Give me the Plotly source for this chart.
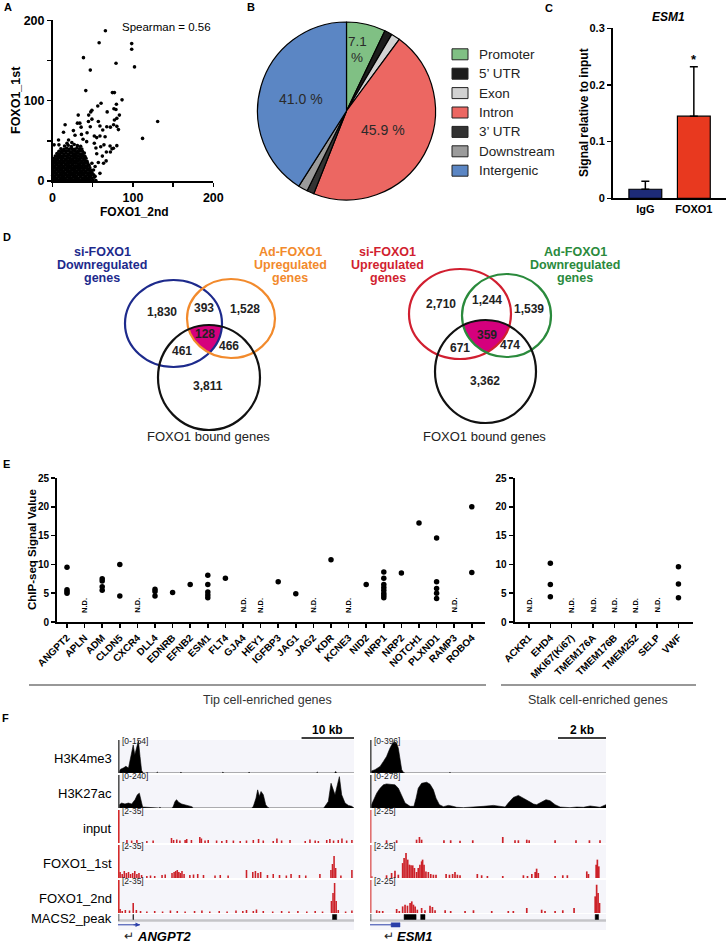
import math
import plotly.graph_objects as go

W, H = 726, 944
FONT = "Liberation Sans, Arial, Helvetica, sans-serif"

# ======================= DATA =======================
# ---- Panel A: FOXO1 ChIP-seq replicate peak signals ----
a_outliers = [
    (65.8, 187), (58, 172), (98.5, 171), (98.5, 164), (102, 142), (79, 146.5),
    (38.5, 153.5), (47, 138), (41.4, 112.5), (77, 110), (74.5, 110), (86.5, 101),
    (79.5, 95.5), (76.4, 90), (78.9, 89), (68, 86), (56.3, 93.4), (60.4, 96.7),
    (47.6, 86), (49, 88), (45, 82), (83.2, 82), (80, 78), (77, 76), (130.8, 74),
    (112, 53), (72, 67), (76, 70), (62.5, 63.5), (80, 68), (82, 64), (57, 74),
    (59, 68.5), (67.5, 67.6), (15.7, 70), (32, 82), (34, 72), (31, 72), (35.6, 67),
    (44.7, 74), (47, 67.6), (49, 77), (13.7, 60.6), (7.5, 51), (2, 45), (8, 45),
    (28, 57), (26, 62.7), (20, 51), (52, 56), (55, 54), (59, 56), (65.4, 55),
    (64, 45), (71.6, 43.6), (60, 42.7), (52, 47), (54, 41), (42.5, 49), (67, 36),
    (74, 40), (72, 36), (62, 31), (66.7, 25), (63.5, 22), (55, 34), (57, 23),
    (49, 22), (53, 18), (51, 13.7), (47, 9.5), (53, 6), (59, 9.5), (75.8, 40.7),
    (80, 44), (38, 52), (24, 48), (36, 58), (18, 47), (43, 60),
]
a_core = [
    (0.5, 1.2), (2.8, 0.6), (5.5, 1.8), (8.2, 0.9), (11, 1.4), (13.6, 0.5), (16.4, 1.9),
    (19, 1.1), (21.8, 0.7), (24.5, 1.6), (27.3, 1.0), (30, 0.8), (32.8, 1.5), (35.5, 0.6),
    (38.4, 1.3), (41.2, 0.9), (44, 1.7), (47, 0.8), (50.5, 1.2), (54, 0.6),
    (1.4, 4.2), (4.2, 3.6), (6.9, 4.8), (9.6, 3.9), (12.3, 4.5), (15, 3.4), (17.7, 4.9),
    (20.4, 4.1), (23.1, 3.7), (25.9, 4.6), (28.6, 4.0), (31.4, 3.5), (34.2, 4.7),
    (36.9, 3.8), (39.7, 4.4), (42.5, 3.6), (45.4, 4.3), (48.6, 3.9), (52, 4.6),
    (0.3, 7.1), (2.9, 6.6), (5.6, 7.8), (8.3, 6.9), (11.1, 7.5), (13.8, 6.4), (16.6, 7.9),
    (19.3, 7.1), (22, 6.7), (24.8, 7.6), (27.5, 7.0), (30.3, 6.5), (33, 7.7), (35.8, 6.8),
    (38.6, 7.4), (41.4, 6.6), (44.3, 7.3), (47.5, 6.9), (51.2, 7.6),
    (1.2, 10.2), (4, 9.6), (6.8, 10.8), (9.5, 9.9), (12.2, 10.5), (15, 9.4), (17.8, 10.9),
    (20.5, 10.1), (23.3, 9.7), (26.1, 10.6), (28.8, 10.0), (31.6, 9.5), (34.4, 10.7),
    (37.2, 9.8), (40, 10.4), (42.9, 9.6), (46, 10.3), (49.3, 9.9),
    (0.4, 13.1), (3.1, 12.6), (5.8, 13.8), (8.6, 12.9), (11.3, 13.5), (14.1, 12.4),
    (16.9, 13.9), (19.6, 13.1), (22.4, 12.7), (25.1, 13.6), (27.9, 13.0), (30.7, 12.5),
    (33.5, 13.7), (36.3, 12.8), (39.1, 13.4), (42, 12.6), (45.2, 13.3), (48.4, 12.9),
    (1.5, 16.2), (4.3, 15.6), (7, 16.8), (9.8, 15.9), (12.5, 16.5), (15.3, 15.4),
    (18.1, 16.9), (20.8, 16.1), (23.6, 15.7), (26.4, 16.6), (29.1, 16.0), (31.9, 15.5),
    (34.7, 16.7), (37.5, 15.8), (40.4, 16.4), (43.4, 15.6), (46.5, 16.3),
    (0.6, 19.1), (3.3, 18.6), (6, 19.8), (8.8, 18.9), (11.6, 19.5), (14.3, 18.4),
    (17.1, 19.9), (19.9, 19.1), (22.6, 18.7), (25.4, 19.6), (28.2, 19.0), (31, 18.5),
    (33.8, 19.7), (36.6, 18.8), (39.5, 19.4), (42.5, 18.6), (45.6, 19.3),
    (1.8, 22.2), (4.6, 21.6), (7.3, 22.8), (10.1, 21.9), (12.8, 22.5), (15.6, 21.4),
    (18.4, 22.9), (21.1, 22.1), (23.9, 21.7), (26.7, 22.6), (29.5, 22.0), (32.3, 21.5),
    (35.1, 22.7), (38, 21.8), (40.9, 22.4), (43.9, 21.6),
    (0.8, 25.1), (3.6, 24.6), (6.3, 25.8), (9.1, 24.9), (11.9, 25.5), (14.6, 24.4),
    (17.4, 25.9), (20.2, 25.1), (23, 24.7), (25.8, 25.6), (28.6, 25.0), (31.4, 24.5),
    (34.2, 25.7), (37.1, 24.8), (40, 25.4), (43, 24.6),
    (2.2, 28.2), (5, 27.6), (7.7, 28.8), (10.5, 27.9), (13.3, 28.5), (16.1, 27.4),
    (18.9, 28.9), (21.7, 28.1), (24.5, 27.7), (27.3, 28.6), (30.1, 28.0), (32.9, 27.5),
    (35.8, 28.7), (38.7, 27.8), (41.6, 28.4),
    (3.5, 31.1), (6.4, 30.6), (9.2, 31.8), (12, 30.9), (14.8, 31.5), (17.6, 30.4),
    (20.4, 31.9), (23.2, 31.1), (26, 30.7), (28.8, 31.6), (31.6, 31.0), (34.5, 30.5),
    (37.4, 31.7), (40.3, 30.8),
    (5.5, 34.2), (8.4, 33.6), (11.2, 34.8), (14, 33.9), (16.8, 34.5), (19.6, 33.4),
    (22.4, 34.9), (25.2, 34.1), (28, 33.7), (30.9, 34.6), (33.8, 34.0), (36.7, 33.5),
    (39.6, 34.7),
    (8, 37.1), (11, 36.6), (13.9, 37.8), (16.7, 36.9), (19.6, 37.5), (22.5, 36.4),
    (25.4, 37.9), (28.3, 37.1), (31.2, 36.7), (34.1, 37.6), (37.2, 37.0),
    (10.5, 40.2), (14.2, 39.6), (17.5, 40.8), (20.8, 39.9), (24, 40.5), (27.2, 39.4),
    (30.3, 40.9), (33.5, 40.1), (36.5, 39.7),
    (15, 43.5), (19.5, 44.5), (23.5, 43), (27, 45.5), (31, 44), (35, 43.2),
]
spearman_label = "Spearman = 0.56"

# ---- Panel B: peak annotation ----
pie_labels = ["Promoter", "5’ UTR", "Exon", "Intron", "3’ UTR", "Downstream", "Intergenic"]
pie_values = [7.1, 1.4, 1.6, 45.9, 1.3, 1.7, 41.0]
pie_colors = ["#80c084", "#1c1c1c", "#d2d2d2", "#ec6762", "#333333", "#9b9b9b", "#5b86c4"]

# ---- Panel C: ChIP-qPCR at ESM1 ----
chip_groups = ["IgG", "FOXO1"]
chip_means = [0.016, 0.145]
chip_err = [0.014, 0.087]
chip_colors = ["#1d2b78", "#e8391f"]

# ---- Panel D: Venn counts ----
venn1_counts = {"A": "1,830", "AB": "393", "B": "1,528", "ABC": "128", "AC": "461", "BC": "466", "C": "3,811"}
venn2_counts = {"A": "2,710", "AB": "1,244", "B": "1,539", "ABC": "359", "AC": "671", "BC": "474", "C": "3,362"}

# ---- Panel E: ChIP-seq signal values per gene (empty = N.D.) ----
tip_genes = ["ANGPT2", "APLN", "ADM", "CLDN5", "CXCR4", "DLL4", "EDNRB", "EFNB2", "ESM1",
             "FLT4", "GJA4", "HEY1", "IGFBP3", "JAG1", "JAG2", "KDR", "KCNE3", "NID2",
             "NRP1", "NRP2", "NOTCH1", "PLXND1", "RAMP3", "ROBO4"]
tip_signal = [[9.5, 5.6, 5.3, 5.0], [], [7.5, 7.1, 6.1, 5.5], [10.0, 4.5], [],
              [5.7, 5.3, 4.5], [5.1], [6.5], [8.1, 6.5, 5.2, 4.7, 4.2], [7.6], [], [],
              [7.0], [4.9], [], [10.8], [], [6.5],
              [8.7, 7.6, 6.5, 6.0, 5.5, 5.0, 4.6, 4.2], [8.5], [17.2],
              [14.6, 7.0, 5.8, 5.0, 4.1], [], [20.0, 8.6]]
stalk_genes = ["ACKR1", "EHD4", "MKI67(Ki67)", "TMEM176A", "TMEM176B", "TMEM252", "SELP", "VWF"]
stalk_signal = [[], [10.2, 6.5, 4.4], [], [], [], [], [], [9.6, 6.6, 4.2]]
e_yticks = [0, 5, 10, 15, 20, 25]

# ---- Panel F: genome browser tracks (positions in kb) ----
L_h3k4me3_kb = [0, 0.25, 0.5, 1.0, 1.5, 2.0, 2.3, 2.6, 2.9, 3.2, 3.6, 3.9, 4.2, 4.5, 4.8,
                7.3, 7.5, 7.7, 11.8, 12.0, 12.2, 15.8, 16.0, 16.2, 19.8, 20.0, 20.2,
                24.8, 25.0, 25.2, 29.8, 30.0, 30.2, 33.8, 34.0, 34.2, 37.8, 38.0, 38.2,
                41.3, 41.5, 41.7, 43.8, 44.0, 44.2, 45]
L_h3k4me3_val = [0, 8, 18, 23, 31, 23, 54, 92, 131, 85, 123, 150, 77, 12, 0,
                 0, 4, 0, 0, 3, 0, 0, 3, 0, 0, 4, 0,
                 0, 3, 0, 0, 3, 0, 0, 3, 0, 0, 4, 0,
                 0, 7, 0, 0, 3, 0, 0]
L_h3k27ac_kb = [0, 0.25, 0.7, 1.33, 1.97, 2.61, 3.24, 3.69, 4.07, 4.39, 4.7,
                7.8, 8.0, 8.2,
                10.3, 10.55, 10.87, 11.19, 11.5, 12.14, 13.09, 14.05, 14.4,
                17.8, 18.0, 18.2, 21.8, 22.0, 22.2,
                25.5, 25.81, 26.32, 26.63, 26.95, 27.27, 27.71, 28.16, 28.54, 28.9,
                32.8, 33.0, 33.2, 36.3, 36.5, 36.7,
                39.2, 39.47, 40.11, 40.62, 41.06, 41.38, 41.83, 42.21, 42.65, 43.29, 43.93, 44.56, 45]
L_h3k27ac_val = [0, 24, 36, 29, 36, 29, 60, 96, 108, 48, 7,
                 0, 5, 0,
                 0, 12, 48, 60, 43, 29, 19, 10, 0,
                 0, 4, 0, 0, 5, 0,
                 0, 12, 72, 132, 84, 120, 96, 24, 5, 0,
                 0, 4, 0, 0, 5, 0,
                 0, 12, 48, 180, 120, 96, 168, 228, 96, 36, 19, 12, 0]
L_input_kb = [1.7, 2.6, 3.6, 5.5, 6.7, 10.2, 10.6, 11.2, 11.8, 12.8,
              13.1, 14.0, 15.6, 15.9, 16.6, 17.2, 18.8, 19.8, 20.7, 22.0,
              23.3, 24.5, 25.8, 26.8, 27.7, 29.6, 30.3, 31.2, 32.8, 35.7,
              36.6, 37.6, 38.2, 39.8, 40.4, 41.1, 42.0, 42.7, 43.6, 44.6]
L_input_val = [5, 4.5, 5, 4, 4.5, 7, 5, 5.5, 4.5, 5,
               6, 5, 8, 6.5, 4.5, 5, 4.5, 4, 5, 4.5,
               4, 4.5, 5, 6, 4.5, 4, 6.5, 4.5, 5, 4,
               5.5, 4.5, 4, 5, 6, 4.5, 5, 6.5, 4.5, 5]
L_rep1_kb = [0.4, 0.8, 1.2, 1.6, 2.0, 2.4, 2.8, 3.2, 3.6, 4.0,
             4.5, 5.5, 6.2, 7.0, 8.4, 9.0, 10.3, 10.7, 11.0, 11.3,
             11.6, 11.9, 12.2, 12.6, 13.7, 14.4, 15.2, 16.3, 18.5, 19.5,
             21.0, 24.5, 25.7, 26.2, 26.7, 27.2, 28.5, 29.6, 30.8, 32.1,
             33.0, 34.6, 35.8, 38.5, 40.6, 40.9, 41.2, 41.5, 42.5, 44.6]
L_rep1_val = [8, 6, 9, 7, 8, 6, 7, 9, 6, 7,
              5, 4, 4.5, 4, 5, 5.5, 7, 8, 9, 10,
              8, 7, 9, 6, 5, 5.5, 6, 5, 4.5, 5,
              4.5, 10, 8, 9, 7, 8, 5, 6, 5, 4.5,
              6, 5, 4.5, 6, 10, 16, 24, 12, 4.5, 10]
L_rep2_kb = [0.4, 0.8, 1.4, 2.2, 2.9, 3.5, 4.3, 5.5, 7.0, 8.5,
             10.0, 11.3, 12.8, 14.6, 16.0, 17.5, 19.3, 20.8, 22.5, 23.8,
             24.5, 25.8, 26.4, 27.7, 29.5, 31.2, 32.6, 34.3, 36.0, 37.6,
             39.0, 40.7, 41.0, 41.3, 41.6, 42.0, 43.4, 44.6]
L_rep2_val = [6, 4, 5, 4.5, 12, 5, 4, 3.5, 4, 3.5,
              4.5, 4, 3.5, 4, 4.5, 3.5, 4, 3.5, 4.5, 4,
              5, 4, 5.5, 4, 3.5, 4, 3.5, 4, 3.5, 4,
              3.5, 14, 22, 32, 14, 5, 3.5, 4.5]
L_macs2 = [(2.85, 2.95), (40.9, 41.7)]

R_h3k4me3_kb = [0, 0.03, 0.21, 0.42, 0.56, 0.69, 0.83, 0.94, 1.04, 1.11, 1.18, 1.25, 1.32, 1.39, 1.46,
                3.28, 3.33, 3.38, 4.7, 4.8, 5.2, 5.3, 6.05, 6.1, 6.15, 6.5, 6.55, 6.6,
                9.25, 9.3, 9.35, 9.83]
R_h3k4me3_val = [0, 20, 40, 79, 139, 198, 297, 356, 376, 356, 297, 158, 40, 8, 0,
                 0, 6, 0, 0, 4, 4, 0, 0, 6, 0, 0, 5, 0,
                 0, 6, 0, 0]
R_h3k27ac_kb = [0, 0.03, 0.14, 0.28, 0.42, 0.56, 0.69, 0.9, 1.04, 1.18,
                1.32, 1.46, 1.67, 1.83, 1.92, 2.01, 2.15, 2.36, 2.5, 2.64,
                2.75, 2.89, 3.06, 3.26, 3.4, 3.61, 3.89, 4.31, 4.72, 5.14,
                5.42, 5.63, 5.76, 5.97, 6.18, 6.36, 6.53, 6.67, 6.81, 6.94,
                7.15, 7.33, 7.5, 7.71, 7.92, 8.33, 8.61, 8.89, 9.17, 9.38,
                9.58, 9.83]
R_h3k27ac_val = [0, 14, 56, 125, 167, 195, 203, 200, 195, 167,
                 97, 42, 14, 14, 83, 167, 208, 217, 200, 153,
                 83, 28, 11, 22, 17, 6, 3, 6, 14, 22,
                 17, 8, 42, 89, 106, 83, 61, 50, 33, 28,
                 50, 70, 61, 28, 8, 3, 8, 6, 17, 11,
                 6, 28]
R_input_kb = [0.69, 1.11, 1.94, 2.06, 2.15, 3.08, 3.36, 3.75, 4.28, 5.53,
              6.04, 6.18, 6.53, 6.63, 7.71, 8.58, 9.14, 9.58]
R_input_val = [3.9, 3.9, 4.3, 6.2, 4.3, 3.9, 3.9, 3.5, 3.9, 6.2,
               3.9, 3.9, 4.3, 3.9, 3.9, 3.9, 3.9, 3.9]
R_rep1_kb = [0.07, 0.69, 0.90, 1.04, 1.18, 1.36, 1.42, 1.50, 1.57, 1.64,
             1.71, 1.78, 1.85, 1.94, 2.01, 2.08, 2.15, 2.19, 2.25, 2.33,
             2.43, 2.53, 2.64, 2.75, 3.17, 3.31, 3.44, 3.54, 3.64, 3.75,
             4.47, 4.65, 4.89, 5.53, 6.39, 6.56, 6.74, 6.88, 6.94, 7.01,
             7.71, 8.03, 8.22, 9.03, 9.10, 9.42, 9.47, 9.53]
R_rep1_val = [3.2, 3.9, 5.5, 7.1, 4.3, 12.4, 15.9, 19.4, 14.8, 11.3,
              10.8, 10.8, 9.0, 6.2, 9.0, 11.3, 13.6, 14.8, 11.3, 6.6,
              6.2, 4.8, 4.3, 4.3, 4.8, 4.3, 4.8, 6.2, 4.3, 3.9,
              4.8, 3.9, 3.4, 3.4, 3.9, 3.4, 4.8, 6.2, 8.5, 5.5,
              3.4, 3.9, 3.9, 6.6, 4.8, 11.3, 14.8, 10.1]
R_rep2_kb = [0.28, 0.39, 0.53, 1.11, 1.22, 1.36, 1.46, 1.56, 1.67, 1.74,
             1.81, 1.88, 1.97, 2.15, 2.29, 2.5, 2.6, 2.71, 3.13, 3.36,
             3.96, 4.31, 5.07, 5.76, 5.97, 6.53, 7.15, 7.29, 7.71, 8.03,
             8.5, 9.38, 9.44, 9.5, 9.56]
R_rep2_val = [3.9, 3.4, 3.4, 4.8, 3.4, 6.6, 7.8, 7.1, 9.0, 10.1,
              7.8, 6.6, 4.3, 5.5, 3.9, 7.1, 6.2, 3.9, 3.9, 3.4,
              3.4, 3.9, 3.4, 3.4, 3.4, 5.5, 4.3, 3.4, 3.4, 3.9,
              5.5, 13.6, 21.7, 15.9, 9.0]
R_macs2 = [(1.42, 1.92), (2.11, 2.29), (9.38, 9.52)]

left_tracks = [("H3K4me3", "[0-154]", (0, 154), "area", L_h3k4me3_kb, L_h3k4me3_val),
               ("H3K27ac", "[0-240]", (0, 240), "area", L_h3k27ac_kb, L_h3k27ac_val),
               ("input", "[2-35]", (2, 35), "bar", L_input_kb, L_input_val),
               ("FOXO1_1st", "[2-35]", (2, 35), "bar", L_rep1_kb, L_rep1_val),
               ("FOXO1_2nd", "[2-35]", (2, 35), "bar", L_rep2_kb, L_rep2_val)]
right_tracks = [("H3K4me3", "[0-396]", (0, 396), "area", R_h3k4me3_kb, R_h3k4me3_val),
                ("H3K27ac", "[0-278]", (0, 278), "area", R_h3k27ac_kb, R_h3k27ac_val),
                ("input", "[2-25]", (2, 25), "bar", R_input_kb, R_input_val),
                ("FOXO1_1st", "[2-25]", (2, 25), "bar", R_rep1_kb, R_rep1_val),
                ("FOXO1_2nd", "[2-25]", (2, 25), "bar", R_rep2_kb, R_rep2_val)]
L_region_kb, R_region_kb = 45.0, 9.83
L_scale_kb, R_scale_kb = 10, 2
L_gene = ("ANGPT2", 0.0, 4.2)
R_gene = ("ESM1", 0.0, 1.25, 0.88)

# ======================= HELPERS =======================
def X(p):
    return p / W

def Y(p):
    return 1 - p / H

def xdom(a, b):
    return [a / W, b / W]

def ydom(top, bottom):
    return [1 - bottom / H, 1 - top / H]

annotations = []
shapes = []


def ann(x, y, text, size=12, bold=False, italic=False, color="black",
        xanchor="center", yanchor="middle", angle=0, xref="paper", yref="paper"):
    t = text
    if bold:
        t = "<b>" + t + "</b>"
    if italic:
        t = "<i>" + t + "</i>"
    annotations.append(dict(
        x=X(x) if xref == "paper" else x, y=Y(y) if yref == "paper" else y,
        xref=xref, yref=yref, text=t, showarrow=False,
        font=dict(family=FONT, size=size, color=color),
        xanchor=xanchor, yanchor=yanchor, textangle=angle, borderpad=0))


def rect(x0, y0, x1, y1, fill, line_color=None, lw=0, xref="paper", layer="above"):
    shapes.append(dict(type="rect", xref=xref, yref="paper",
                       x0=X(x0) if xref == "paper" else x0, x1=X(x1) if xref == "paper" else x1,
                       y0=Y(y1), y1=Y(y0), fillcolor=fill, layer=layer,
                       line=dict(color=line_color or fill, width=lw)))


def hline(x0, x1, y, color="black", lw=1.0, xref="paper"):
    shapes.append(dict(type="line", xref=xref, yref="paper",
                       x0=X(x0) if xref == "paper" else x0, x1=X(x1) if xref == "paper" else x1,
                       y0=Y(y), y1=Y(y), line=dict(color=color, width=lw)))


def vline(x, y0, y1, color="black", lw=1.0):
    shapes.append(dict(type="line", xref="paper", yref="paper",
                       x0=X(x), x1=X(x), y0=Y(y0), y1=Y(y1), line=dict(color=color, width=lw)))


fig = go.Figure()
layout = dict(template="none", width=W, height=H, margin=dict(l=0, r=0, t=0, b=0, pad=0),
              autosize=False, paper_bgcolor="white", plot_bgcolor="rgba(0,0,0,0)",
              showlegend=False, hovermode=False, barmode="overlay",
              font=dict(family=FONT, color="black"))

axis_common = dict(showgrid=False, zeroline=False, showline=True, linecolor="black",
                   ticks="outside", tickcolor="black", automargin=False)

# ======================= PANEL A =======================
ax_x = [p[0] for p in a_core] + [p[0] for p in a_outliers]
ax_y = [p[1] for p in a_core] + [p[1] for p in a_outliers]
fig.add_trace(go.Scatter(x=ax_x, y=ax_y, mode="markers", cliponaxis=False,
                         marker=dict(color="black", size=3.6, line=dict(width=0)),
                         xaxis="x", yaxis="y"))
layout["xaxis"] = dict(axis_common, domain=xdom(52.5, 213.3), anchor="y", range=[0, 200],
                       tickvals=[0, 50, 100, 150, 200], ticktext=["0", "", "100", "", "200"],
                       ticklen=4, tickwidth=1.5, linewidth=1.5,
                       tickfont=dict(size=12.5, family=FONT, weight="bold"))
layout["yaxis"] = dict(axis_common, domain=ydom(20.3, 181), anchor="x", range=[0, 200],
                       tickvals=[0, 50, 100, 150, 200], ticktext=["0", "", "100", "", "200"],
                       ticklen=4, tickwidth=1.5, linewidth=1.5,
                       tickfont=dict(size=12.5, family=FONT, weight="bold"))
ann(8, 7, "A", size=11, bold=True)
ann(166, 27, spearman_label, size=11.5)
ann(16, 100, "FOXO1_1st", size=12.5, bold=True, angle=-90)
ann(134, 212, "FOXO1_2nd", size=12, bold=True)

# ======================= PANEL B =======================
fig.add_trace(go.Pie(values=pie_values, labels=pie_labels, sort=False, direction="clockwise",
                     rotation=0, textinfo="none", hoverinfo="none", showlegend=False,
                     marker=dict(colors=pie_colors, line=dict(color="black", width=1.2)),
                     domain=dict(x=xdom(257, 436), y=ydom(22, 200))))
ann(251.5, 7.5, "B", size=11, bold=True)
ann(357, 42, f"{pie_values[0]}", size=13.5, color="#2a2a2a")
ann(357, 58, "%", size=13.5, color="#2a2a2a")
ann(383, 130, f"{pie_values[3]} %", size=14, color="#2a2a2a")
ann(301, 99, f"{pie_values[6]} %", size=14, color="#2a2a2a")
leg_y0, leg_dy = 54.3, 19.4
for i, (lab, col) in enumerate(zip(pie_labels, pie_colors)):
    cy = leg_y0 + i * leg_dy
    rect(452, cy - 5.5, 468, cy + 5.5, col, line_color="#222222", lw=1)
    ann(478, cy, lab, size=13.5, color="#222222", xanchor="left")

# ======================= PANEL C =======================
fig.add_trace(go.Bar(x=[0, 1], y=chip_means, width=0.677,
                     marker=dict(color=chip_colors, line=dict(color="black", width=1.2)),
                     error_y=dict(type="data", array=chip_err, arrayminus=[0, 0], symmetric=False,
                                  color="black", thickness=1.5, width=4),
                     xaxis="x2", yaxis="y2"))
layout["xaxis2"] = dict(axis_common, domain=xdom(612.5, 726), anchor="y2", range=[-0.677, 1.663],
                        tickvals=[0, 1], ticktext=chip_groups, ticks="", linewidth=1.5,
                        tickfont=dict(size=11, family=FONT, weight="bold"))
layout["yaxis2"] = dict(axis_common, domain=ydom(28.3, 198.3), anchor="x2", range=[0, 0.3],
                        tickvals=[0, 0.1, 0.2, 0.3], ticktext=["0", "0.1", "0.2", "0.3"],
                        ticklen=4, tickwidth=1.5, linewidth=1.5,
                        tickfont=dict(size=11, family=FONT, weight="bold"))
annotations.append(dict(x=1, y=chip_means[1] + chip_err[1] + 0.013, xref="x2", yref="y2",
                        text="<b>*</b>", showarrow=False, font=dict(family=FONT, size=13)))
ann(548.5, 8, "C", size=11, bold=True)
ann(668, 17, "ESM1", size=12, bold=True, italic=True)
ann(584, 113, "Signal relative to input", size=12, bold=True, angle=-90)

# ======================= PANEL D (Venn) =======================
def ell(box):
    x0, x1, y0, y1 = box
    return ((x0 + x1) / 2, (y0 + y1) / 2, (x1 - x0) / 2, (y1 - y0) / 2)


def triple_path(boxes, c, n=200):
    pts = []
    for i in range(n):
        th = 2 * math.pi * i / n
        dx, dy = math.cos(th), math.sin(th)
        tmin = 1e9
        for b in boxes:
            h, k, a, bb = ell(b)
            ox, oy = c[0] - h, c[1] - k
            A = (dx / a) ** 2 + (dy / bb) ** 2
            B = 2 * (ox * dx / a ** 2 + oy * dy / bb ** 2)
            C = (ox / a) ** 2 + (oy / bb) ** 2 - 1
            t = (-B + math.sqrt(B * B - 4 * A * C)) / (2 * A)
            tmin = min(tmin, t)
        pts.append((c[0] + tmin * dx, c[1] + tmin * dy))
    return "M " + " L ".join(f"{X(x):.5f},{Y(y):.5f}" for x, y in pts) + " Z"


def venn(boxes, colors, counts, pos, center):
    shapes.append(dict(type="path", xref="paper", yref="paper", path=triple_path(boxes, center),
                       fillcolor="#d5007d", line=dict(width=0)))
    for b, col in zip(boxes, colors):
        x0, x1, y0, y1 = b
        shapes.append(dict(type="circle", xref="paper", yref="paper", x0=X(x0), x1=X(x1),
                           y0=Y(y1), y1=Y(y0), line=dict(color=col, width=2.2)))
    for key, (x, y) in pos.items():
        ann(x, y, counts[key], size=12, bold=True, color="#222222")


ann(7, 237, "D", size=11, bold=True)
venn([(125, 222, 280, 367), (187, 275, 279, 358), (158, 260, 325, 430)],
     ["#1d2a8c", "#f28a2c", "#111111"], venn1_counts,
     {"A": (162, 312), "AB": (204, 308), "B": (245, 309), "ABC": (205, 334),
      "AC": (182, 351), "BC": (229, 346), "C": (208, 386)}, (205, 334))
venn([(409, 511, 269, 359), (462, 551, 274, 357), (435, 536, 320, 423)],
     ["#d11f30", "#2a8a3c", "#111111"], venn2_counts,
     {"A": (441, 304), "AB": (487, 300), "B": (529, 309), "ABC": (487, 335),
      "AC": (460, 348), "BC": (510, 345), "C": (485, 381)}, (487, 335))
VL = 13.2
for i, t in enumerate(["si-FOXO1", "Downregulated", "genes"]):
    ann(102, 252 + VL * i, t, size=12.5, bold=True, color="#1d2a8c")
for i, t in enumerate(["Ad-FOXO1", "Upregulated", "genes"]):
    ann(290, 252 + VL * i, t, size=12.5, bold=True, color="#f28a2c")
for i, t in enumerate(["si-FOXO1", "Upregulated", "genes"]):
    ann(388, 252 + VL * i, t, size=12.5, bold=True, color="#d11f30")
for i, t in enumerate(["Ad-FOXO1", "Downregulated", "genes"]):
    ann(575, 252 + VL * i, t, size=12.5, bold=True, color="#2a8a3c")
ann(208, 437, "FOXO1 bound genes", size=13, color="#222222")
ann(484, 437, "FOXO1 bound genes", size=13, color="#222222")

# ======================= PANEL E =======================
def dot_plot(genes, signal, xa, ya, ax0, ax1, first_px, step):
    xs, ys = [], []
    for i, vals in enumerate(signal):
        for v in vals:
            xs.append(i)
            ys.append(v)
        if not vals:
            annotations.append(dict(x=i, y=2.9, xref=xa, yref=ya, text="<b>N.D.</b>",
                                    showarrow=False, textangle=-90, borderpad=0,
                                    font=dict(family=FONT, size=7.5, color="black")))
    fig.add_trace(go.Scatter(x=xs, y=ys, mode="markers", cliponaxis=False,
                             marker=dict(color="black", size=5.5),
                             xaxis=xa, yaxis=ya))
    r0 = -(first_px - ax0) / step
    r1 = r0 + (ax1 - ax0) / step
    n = xa[1:]
    layout["xaxis" + n] = dict(axis_common, domain=xdom(ax0, ax1), anchor=ya, range=[r0, r1],
                               tickvals=list(range(len(genes))), ticktext=genes, tickangle=-45,
                               ticklen=4, tickwidth=1.5, linewidth=2,
                               tickfont=dict(size=10, family=FONT, weight="bold"))
    layout["yaxis" + n] = dict(axis_common, domain=ydom(478, 622), anchor=xa, range=[0, 25],
                               tickvals=e_yticks, ticklen=4, tickwidth=1.5, linewidth=2,
                               tickfont=dict(size=10, family=FONT, weight="bold"))


dot_plot(tip_genes, tip_signal, "x3", "y3", 57, 485, 67, 17.6)
dot_plot(stalk_genes, stalk_signal, "x4", "y4", 514.5, 693, 529, 21.35)
ann(6, 464, "E", size=11, bold=True)
ann(32, 550, "ChIP-seq Signal Value", size=11.5, bold=True, angle=-90)
hline(29, 486, 685, color="#333333", lw=1.2)
hline(501, 696, 685, color="#333333", lw=1.2)
ann(267, 700, "Tip cell-enriched genes", size=12.5, color="#333333")
ann(598, 700, "Stalk cell-enriched genes", size=12.5, color="#333333")

# ======================= PANEL F =======================
ann(5, 718, "F", size=11, bold=True)
track_tops = [740, 775, 810, 845, 880]
TRACK_H = 33
sides = [("x5", 5, 118, 354, L_region_kb, left_tracks, 0.3, L_macs2, L_scale_kb, "10 kb", L_gene),
         ("x6", 10, 370, 606, R_region_kb, right_tracks, 0.07, R_macs2, R_scale_kb, "2 kb", R_gene)]
for xa, y_first, x0, x1, region, tracks, bw, macs, scale_kb, scale_lab, gene in sides:
    n = xa[1:]
    layout["xaxis" + n] = dict(domain=xdom(x0, x1), anchor="y" + str(y_first), range=[0, region],
                               visible=False, showgrid=False, zeroline=False, automargin=False)
    for j, (name, rng_lab, rng, kind, kb, val) in enumerate(tracks):
        ya = "y" + str(y_first + j)
        top = track_tops[j]
        rect(x0, top, x1, top + TRACK_H, "#f5f5fa", layer="below")
        red = kind == "bar"
        border = ("#d42a2a" if x0 < 300 else "#e07070") if red else "#555555"
        vline(x0 + 0.8, top, top + TRACK_H, color=border, lw=1.6)
        if kind == "area":
            fig.add_trace(go.Scatter(x=kb, y=val, mode="lines", fill="tozeroy",
                                     line=dict(color="black", width=0.6), fillcolor="black",
                                     xaxis=xa, yaxis=ya))
        else:
            fig.add_trace(go.Bar(x=kb, y=val, width=bw, marker=dict(color="#cc2229", line=dict(width=0)),
                                 xaxis=xa, yaxis=ya))
        layout["yaxis" + str(y_first + j)] = dict(domain=ydom(top, top + TRACK_H), anchor=xa,
                                                  range=list(rng), visible=False, automargin=False,
                                                  showgrid=False, zeroline=False)
        ann(x0 + 3, top + 1, rng_lab, size=8.5, color="#222222", xanchor="left")
        if x0 < 300:
            ann(113, top + 18, name, size=13, xanchor="right")
    # MACS2 row + gene row
    rect(x0, 914, x1, 930, "#f5f5fa", layer="below")
    hline(x0, x1, 920.5, color="#c4c4c8", lw=2.5)
    vline(x0 + 0.8, 914, 921, color="#777777", lw=1.2)
    for s, e in macs:
        shapes.append(dict(type="rect", xref=xa, yref="paper", x0=s, x1=e, y0=Y(919.5), y1=Y(914.5),
                           fillcolor="black", line=dict(color="black", width=0.5)))
    # scale bar
    xpx = lambda kbv: x0 + (x1 - x0) * kbv / region
    hline(xpx(region - scale_kb), x1, 738, color="black", lw=1.5)
    ann((xpx(region - scale_kb) + x1) / 2, 730, scale_lab, size=12, bold=True)
    # gene model
    gname, gs, ge = gene[0], gene[1], gene[2]
    shapes.append(dict(type="line", xref=xa, yref="paper", x0=gs, x1=ge, y0=Y(924.8), y1=Y(924.8),
                       line=dict(color="#2b3fa8", width=1)))
    if len(gene) > 3:
        shapes.append(dict(type="rect", xref=xa, yref="paper", x0=gene[3], x1=ge, y0=Y(927), y1=Y(922.8),
                           fillcolor="#2b3fa8", line=dict(color="#2b3fa8", width=0.5)))
    else:
        annotations.append(dict(x=ge, y=Y(924.8), xref=xa, yref="paper", ax=-8, ay=0, text="",
                                showarrow=True, arrowhead=2, arrowsize=0.9, arrowwidth=1,
                                arrowcolor="#2b3fa8"))
    gx = xpx(ge)
    ann(gx - 5, 936, "↵", size=12, color="#222222", xanchor="right")
    ann(gx - 4, 936, gname, size=13, bold=True, italic=True, xanchor="left")

ann(113, 918, "MACS2_peak", size=13, xanchor="right")

layout["annotations"] = annotations
layout["shapes"] = shapes
fig.update_layout(**layout)
fig.write_html("out.html", config={"displayModeBar": False, "staticPlot": True},
               post_script="document.body.style.margin='0px';document.body.style.overflow='hidden';")
